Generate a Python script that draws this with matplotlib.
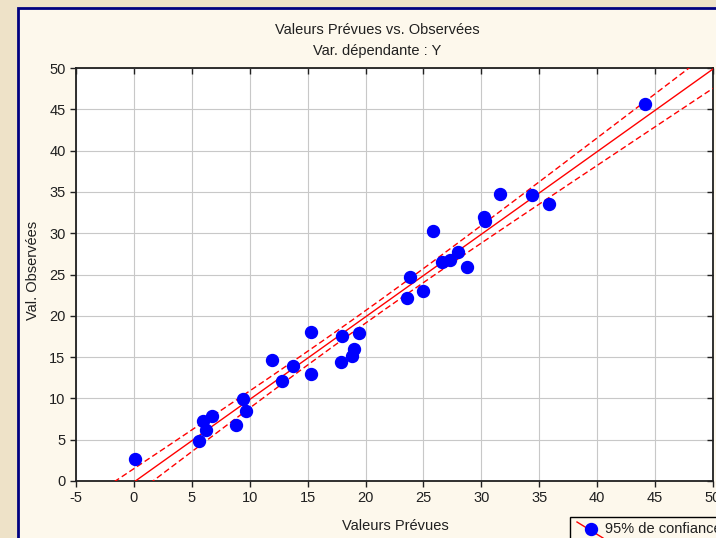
import numpy as np
import matplotlib.pyplot as plt
from matplotlib.patches import Rectangle
from matplotlib.lines import Line2D

plt.rcParams['font.family'] = ['Liberation Sans', 'DejaVu Sans']
plt.rcParams['axes.unicode_minus'] = False

# predicted vs observed values
predicted = [0.1, 5.6, 6.0, 6.2, 6.7, 8.8, 9.4, 9.7, 11.9, 12.8, 13.7, 15.3, 15.3,
             17.9, 18.0, 18.8, 19.0, 19.4, 23.6, 23.8, 25.0, 25.8, 26.6, 27.3,
             28.0, 28.8, 30.2, 30.3, 31.6, 34.4, 35.8, 44.1]
observed = [2.7, 4.9, 7.3, 6.2, 7.9, 6.8, 9.9, 8.5, 14.6, 12.1, 13.9, 18.0, 13.0,
            14.4, 17.6, 15.1, 16.0, 17.9, 22.2, 24.7, 23.0, 30.3, 26.5, 26.8,
            27.7, 25.9, 32.0, 31.5, 34.7, 34.6, 33.5, 45.6]

x = np.array(predicted)
y = np.array(observed)
n = len(x)

# least squares fit and 95% confidence band of the mean
slope, intercept = np.polyfit(x, y, 1)
resid = y - (slope * x + intercept)
s = np.sqrt(np.sum(resid ** 2) / (n - 2))
t = 2.042  # t(0.975, 30)
sxx = np.sum((x - x.mean()) ** 2)
xs = np.linspace(-5, 50, 300)
fit = slope * xs + intercept
band = t * s * np.sqrt(1 / n + (xs - x.mean()) ** 2 / sxx)

fig = plt.figure(figsize=(7.16, 5.38), dpi=100)
fig.patch.set_facecolor('#eee2c8')

# cream panel with navy frame
panel = Rectangle((18 / 716, -0.1), 1.1, 1 - 8 / 538 + 0.1, transform=fig.transFigure,
                  facecolor='#fdf8ec', edgecolor='#000080', linewidth=2, zorder=-10)
fig.patches.append(panel)

ax = fig.add_axes([76 / 716, 57 / 538, 637 / 716, 413 / 538])
ax.set_facecolor('white')

dash = (0, (4.3, 2.3))
ax.plot(xs, fit, color='red', lw=1, zorder=3)
ax.plot(xs, fit + band, color='red', lw=1, ls=dash, zorder=3)
ax.plot(xs, fit - band, color='red', lw=1, ls=dash, zorder=3)
ax.plot(x, y, 'o', color='blue', markersize=8.6, zorder=4)

ax.set_xlim(-5, 50)
ax.set_ylim(0, 50)
ax.set_xticks(np.arange(-5, 51, 5))
ax.set_yticks(np.arange(0, 51, 5))
ax.grid(True, color='#c8c8c8', lw=0.8)
ax.set_axisbelow(True)
ax.tick_params(direction='out', length=4, width=1, labelsize=10.5, colors='#202020')
ax.tick_params(top=True, right=True)
for spine in ax.spines.values():
    spine.set_linewidth(1.3)
    spine.set_color('#202020')
# top and right ticks point inward
for tk in ax.xaxis.get_major_ticks():
    tk.tick2line.set_marker(3)
for tk in ax.yaxis.get_major_ticks():
    tk.tick2line.set_marker(0)

fig.text(377 / 716, 1 - 30 / 538, 'Valeurs Prévues vs. Observées', ha='center', va='center',
         fontsize=10.5, color='#202020')
fig.text(377 / 716, 1 - 51 / 538, 'Var. dépendante : Y', ha='center', va='center',
         fontsize=10.5, color='#202020')
fig.text(395 / 716, 1 - 526 / 538, 'Valeurs Prévues', ha='center', va='center',
         fontsize=10.5, color='#202020')
fig.text(33 / 716, 1 - 270 / 538, 'Val. Observées', ha='center', va='center',
         rotation=90, fontsize=10.5, color='#202020')

# legend box
fig.patches.append(Rectangle((570 / 716, -0.1), 0.5, 0.1 + 21 / 538,
                             transform=fig.transFigure, facecolor='#fdf8ec',
                             edgecolor='black', linewidth=1, zorder=5))
fig.lines.append(Line2D([577 / 716, 603 / 716], [1 - 522 / 538, 1 - 538 / 538],
                        transform=fig.transFigure, color='red', lw=1, zorder=6))
fig.lines.append(Line2D([591 / 716], [1 - 529 / 538], transform=fig.transFigure,
                        marker='o', color='blue', markersize=8.6, zorder=7))
fig.text(605 / 716, 1 - 529 / 538, '95% de confiance', ha='left', va='center',
         fontsize=10.5, color='#202020', zorder=8)

fig.savefig('out.png', dpi=100, facecolor=fig.get_facecolor())
